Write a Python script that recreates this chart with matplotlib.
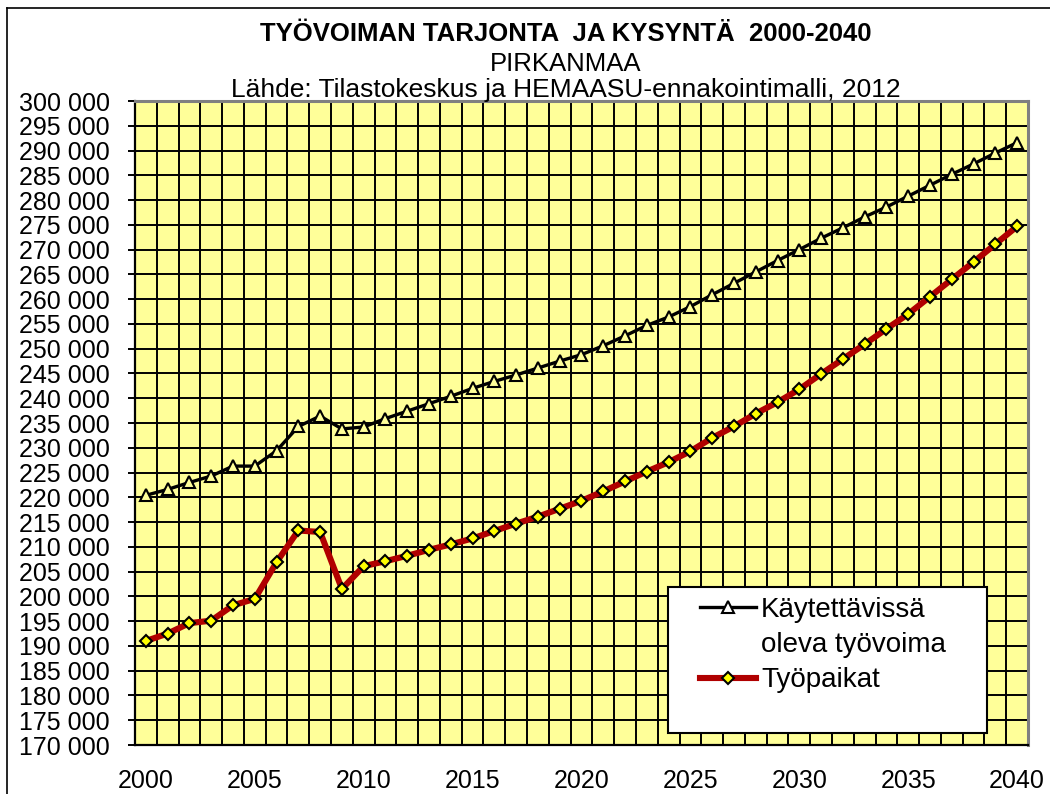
import matplotlib
matplotlib.use("Agg")
import matplotlib.pyplot as plt
from matplotlib.lines import Line2D
from matplotlib.patches import Rectangle
from matplotlib.ticker import MultipleLocator, FuncFormatter

plt.rcParams['font.family'] = ['Liberation Sans', 'DejaVu Sans']

years = list(range(2000, 2041))

# käytettävissä oleva työvoima
tarjonta = [220400, 221600, 223000, 224300, 226300, 226300, 229400, 234300, 236400, 233800,
            234200, 235900, 237400, 238900, 240400, 242000, 243400, 244700, 246100, 247500,
            248800, 250600, 252600, 254700, 256400, 258500, 260900, 263200, 265500, 267800,
            270000, 272300, 274400, 276600, 278600, 280800, 283000, 285200, 287300, 289500,
            291600]

# työpaikat
kysynta = [191000, 192500, 194600, 195100, 198200, 199500, 206900, 213300, 213000, 201500,
           206100, 207100, 208200, 209400, 210500, 211700, 213200, 214700, 216100, 217700,
           219300, 221200, 223200, 225200, 227100, 229300, 232000, 234300, 236900, 239200,
           241800, 244900, 247900, 250900, 254000, 257000, 260500, 264000, 267500, 271100,
           274700]

W, H = 1050, 794
fig = plt.figure(figsize=(W / 100, H / 100), dpi=100)
ax = fig.add_axes([135 / W, 1 - 745 / H, (1028 - 135) / W, (745 - 101) / H])
bg = '#FFFF99'
ax.set_facecolor(bg)

red = '#B00000'
ax.plot(years, tarjonta, color='black', lw=2.4, marker='^', ms=9,
        mfc=bg, mec='black', mew=1.5, zorder=3)
ax.plot(years, kysynta, color=red, lw=4.4, marker='D', ms=6.5,
        mfc='#FFFF00', mec='black', mew=1.5, zorder=3)

ax.set_xlim(1999.5, 2040.5)
ax.set_ylim(170000, 300000)
ax.xaxis.set_major_locator(MultipleLocator(5))
ax.xaxis.set_minor_locator(MultipleLocator(1, offset=0.5))
ax.yaxis.set_major_locator(MultipleLocator(5000))
ax.yaxis.set_major_formatter(FuncFormatter(lambda v, p: f"{int(v):,}".replace(',', ' ')))

ax.set_axisbelow(True)
ax.grid(True, which='minor', axis='x', color='black', lw=1.4)
ax.grid(True, which='major', axis='y', color='black', lw=1.4)
ax.tick_params(axis='x', which='both', length=0, labelsize=18, pad=17)
ax.tick_params(axis='y', length=5, width=1.4, direction='out', labelsize=18, pad=13)

for s in ['left', 'bottom']:
    ax.spines[s].set_color('black')
    ax.spines[s].set_linewidth(1.6)
for s in ['top', 'right']:
    ax.spines[s].set_color('#808080')
    ax.spines[s].set_linewidth(2.2)

# legend box
box = Rectangle((668 / W, 1 - 733 / H), (987 - 668) / W, (733 - 587) / H,
                transform=fig.transFigure, facecolor='white', edgecolor='black',
                lw=1.5, zorder=10)
ax.add_patch(box)
handles = [
    Line2D([], [], color='black', lw=2.4, marker='^', ms=9, mfc='white', mec='black', mew=1.5),
    Line2D([], [], color='none'),
    Line2D([], [], color=red, lw=4.4, marker='D', ms=6.5, mfc='#FFFF00', mec='black', mew=1.5),
]
labels = ['Käytettävissä', 'oleva työvoima', 'Työpaikat']
leg = ax.legend(handles, labels, loc='upper left', bbox_to_anchor=(700 / W, 1 - 597 / H),
                bbox_transform=fig.transFigure, frameon=False, fontsize=20,
                handlelength=2.0, handletextpad=0.2, labelspacing=0.33, borderpad=0,
                borderaxespad=0)
leg.set_zorder(11)

fig.text(566 / W, 1 - 34 / H, 'TYÖVOIMAN TARJONTA  JA KYSYNTÄ  2000-2040',
         ha='center', va='center', fontsize=18.5, fontweight='bold')
fig.text(566 / W, 1 - 64 / H, 'PIRKANMAA', ha='center', va='center', fontsize=18.5)
fig.text(566 / W, 1 - 97 / H, 'Lähde: Tilastokeskus ja HEMAASU-ennakointimalli, 2012',
         ha='center', va='baseline', fontsize=19, zorder=20)

# chart frame
fig.add_artist(Line2D([7 / W, 7 / W], [0, 1 - 8 / H], color='black', lw=1.2,
                      transform=fig.transFigure))
fig.add_artist(Line2D([7 / W, 1], [1 - 8 / H, 1 - 8 / H], color='black', lw=1.2,
                      transform=fig.transFigure))

fig.savefig('out.png', dpi=100)
